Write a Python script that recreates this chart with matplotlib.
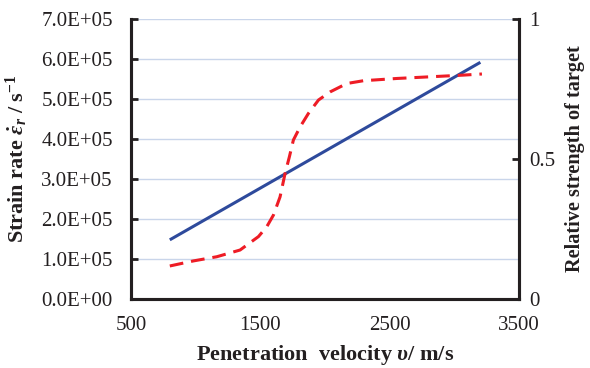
import numpy as np
import matplotlib
matplotlib.use("Agg")
import matplotlib.pyplot as plt
from matplotlib.ticker import FuncFormatter

plt.rcParams['font.family'] = ['Liberation Serif', 'DejaVu Serif']
plt.rcParams['mathtext.fontset'] = 'custom'
plt.rcParams['mathtext.rm'] = 'Liberation Serif:weight=bold'
plt.rcParams['mathtext.it'] = 'Liberation Serif:style=italic:weight=bold'
plt.rcParams['mathtext.bf'] = 'Liberation Serif:weight=bold'

# strain rate (left axis)
v_rate = [800, 3200]
strain_rate = [1.48e5, 5.92e5]

# relative strength of target (right axis)
v_rel = [800, 982, 1163, 1343, 1485, 1549, 1601, 1652, 1691, 1724, 1755,
         1807, 1871, 1949, 2039, 2168, 2297, 2555, 2812, 3070, 3212]
rel_strength = [0.118, 0.136, 0.151, 0.175, 0.223, 0.258, 0.300, 0.365, 0.449,
                0.508, 0.568, 0.615, 0.663, 0.711, 0.740, 0.770, 0.780, 0.788,
                0.794, 0.800, 0.804]

ink = '#231f20'
fig = plt.figure(figsize=(5.9, 3.68), dpi=100)
ax = fig.add_axes([0.222, 0.1875, 0.658, 0.7605])
ax2 = ax.twinx()

ax.plot(v_rate, strain_rate, color='#2e4a9c', lw=2.2, solid_capstyle='butt', zorder=3)
ax2.plot(v_rel, rel_strength, color='#ee1c25', lw=2.2, dashes=(4.5, 2.6), zorder=3)

ax.set_xlim(500, 3500)
ax.set_ylim(0, 7e5)
ax2.set_ylim(0, 1)
ax.set_xticks([500, 1500, 2500, 3500])
ax.set_yticks(np.arange(0, 7.01e5, 1e5))
ax2.set_yticks([0, 0.5, 1])
ax2.set_yticklabels(['0', '0.5', '1'])
ax.yaxis.set_major_formatter(FuncFormatter(lambda y, p: '%.1fE+05' % (y / 1e5) if y > 0 else '0.0E+00'))

ax.grid(axis='y', color='#c9d5ea', lw=1.0)
ax.set_axisbelow(True)

for a in (ax, ax2):
    a.spines['top'].set_visible(False)
    for s in ('left', 'right', 'bottom'):
        a.spines[s].set_linewidth(2.2)
        a.spines[s].set_color(ink)
ax.tick_params(axis='y', direction='in', length=5, width=2, colors=ink, labelsize=15, pad=13)
ax.tick_params(axis='x', length=0, colors=ink, labelsize=15, pad=12)
ax2.tick_params(axis='y', direction='in', length=5, width=2, colors=ink, labelsize=15, pad=7)

ax.set_xlabel(r'Penetration  velocity $\upsilon$/ m/s', fontsize=16, fontweight='bold', color=ink, labelpad=6)
ax.set_ylabel(r'Strain rate $\dot{\varepsilon}_r$ / s$^{-1}$', fontsize=16, fontweight='bold', color=ink, labelpad=8)
ax2.set_ylabel('Relative strength of target', fontsize=14.6, fontweight='bold', color=ink, labelpad=7)

fig.savefig('out.png', dpi=100)
